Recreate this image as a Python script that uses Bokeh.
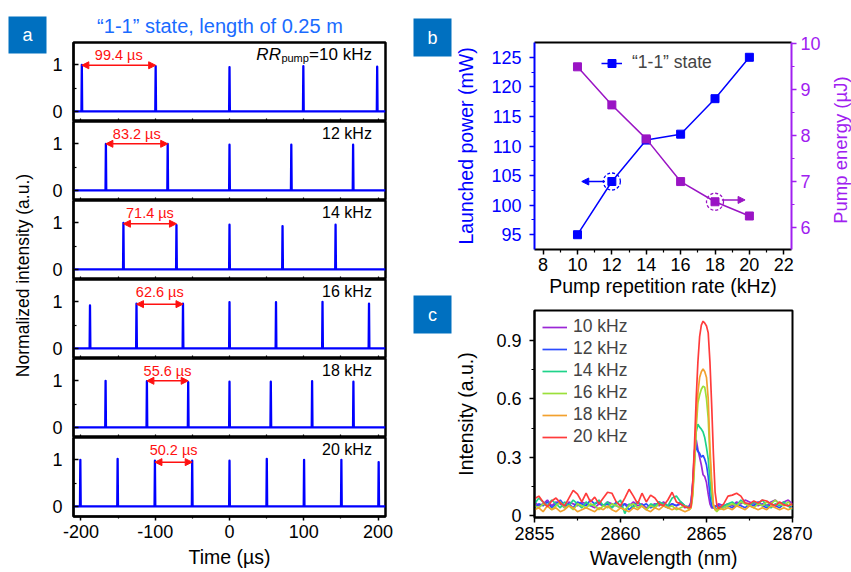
import math
import numpy as np
from bokeh.plotting import figure
from bokeh.models import Range1d, LinearAxis, FixedTicker, Arrow, NormalHead, Legend, LegendItem
from bokeh.layouts import row, column
from bokeh.embed import file_html
from bokeh.resources import INLINE
from bokeh.core.properties import value

FONT = "Liberation Sans"

# ---------------- panel a data ----------------
rate_labels_a = ["10 kHz", "12 kHz", "14 kHz", "16 kHz", "18 kHz", "20 kHz"]
period_labels = [99.4, 83.2, 71.4, 62.6, 55.6, 50.2]
pulse_t_10 = [-198.8, -99.4, 0.0, 99.4, 198.8]
pulse_h_10 = [1.0, 0.97, 0.95, 0.97, 0.96]
pulse_t_12 = [-166.4, -83.2, 0.0, 83.2, 166.4]
pulse_h_12 = [1.0, 1.0, 0.98, 0.98, 0.98]
pulse_t_14 = [-142.8, -71.4, 0.0, 71.4, 142.8]
pulse_h_14 = [1.0, 0.95, 0.96, 0.93, 0.96]
pulse_t_16 = [-187.8, -125.2, -62.6, 0.0, 62.6, 125.2, 187.8]
pulse_h_16 = [0.92, 0.96, 0.96, 0.99, 0.99, 1.0, 0.96]
pulse_t_18 = [-166.8, -111.2, -55.6, 0.0, 55.6, 111.2, 166.8]
pulse_h_18 = [1.0, 0.99, 0.97, 0.98, 0.98, 0.99, 0.98]
pulse_t_20 = [-200.8, -150.6, -100.4, -50.2, 0.0, 50.2, 100.4, 150.6, 200.8]
pulse_h_20 = [1.0, 1.02, 0.98, 0.98, 0.98, 1.02, 1.0, 1.0, 0.95]
baseline_level = 0.0
time_ticks = [-200, -100, 0, 100, 200]
time_tick_labels = ["-200", "-100", "0", "100", "200"]
time_minor = [-150, -50, 50, 150]
intensity_ticks = [0, 1]
intensity_minor = [0.5]

# ---------------- panel b data ----------------
rep_rate = [10, 12, 14, 16, 18, 20]
launched_power = [95, 104, 111, 112, 118, 125]
pump_energy = [9.5, 8.67, 7.93, 7.0, 6.56, 6.25]
rate_ticks = [8, 10, 12, 14, 16, 18, 20, 22]
rate_minor = [9, 11, 13, 15, 17, 19, 21]
power_ticks = [95, 100, 105, 110, 115, 120, 125]
power_minor = [97.5, 102.5, 107.5, 112.5, 117.5, 122.5]
energy_ticks = [6, 7, 8, 9, 10]
energy_minor = [6.5, 7.5, 8.5, 9.5]

# ---------------- panel c data ----------------
wl_left = np.linspace(2855.0, 2863.75, 36)
wl_peak = np.linspace(2864.0, 2865.7, 18)
wl_right = np.linspace(2866.0, 2870.0, 17)
wavelength = np.concatenate([wl_left, wl_peak, wl_right])

spec_10 = ([0.07, 0.05, 0.06, 0.08, 0.05, 0.07, 0.06, 0.04, 0.07, 0.06,
            0.05, 0.07, 0.06, 0.05, 0.04, 0.06, 0.05, 0.07, 0.06, 0.05,
            0.04, 0.06, 0.05, 0.07, 0.05, 0.06, 0.04, 0.05, 0.06, 0.05,
            0.07, 0.05, 0.06, 0.05, 0.06, 0.04]
           + [0.05, 0.07, 0.17, 0.33, 0.39, 0.34, 0.30, 0.26, 0.21, 0.20, 0.17, 0.11, 0.06, 0.04, 0.04, 0.05, 0.05, 0.06]
           + [0.05, 0.06, 0.05, 0.07, 0.06, 0.08, 0.07, 0.06, 0.05, 0.06, 0.05, 0.07, 0.08, 0.06, 0.07, 0.08, 0.06])
spec_12 = ([0.04, 0.06, 0.05, 0.07, 0.04, 0.06, 0.08, 0.05, 0.06, 0.04,
            0.07, 0.06, 0.05, 0.08, 0.06, 0.07, 0.05, 0.06, 0.04, 0.07,
            0.05, 0.06, 0.03, 0.05, 0.07, 0.05, 0.06, 0.04, 0.05, 0.07,
            0.05, 0.04, 0.06, 0.05, 0.07, 0.05]
           + [0.04, 0.06, 0.16, 0.30, 0.36, 0.33, 0.32, 0.30, 0.31, 0.29, 0.26, 0.20, 0.10, 0.05, 0.04, 0.04, 0.05, 0.05]
           + [0.04, 0.05, 0.04, 0.06, 0.05, 0.04, 0.06, 0.05, 0.07, 0.05, 0.04, 0.06, 0.05, 0.04, 0.06, 0.05, 0.04])
spec_14 = ([0.06, 0.09, 0.07, 0.05, 0.08, 0.06, 0.04, 0.07, 0.05, 0.08,
            0.06, 0.04, 0.07, 0.05, 0.06, 0.08, 0.05, 0.07, 0.04, 0.06,
            0.08, 0.01, 0.06, 0.04, 0.07, 0.05, 0.03, 0.06, 0.05, 0.07,
            0.06, 0.05, 0.09, 0.10, 0.07, 0.05]
           + [0.04, 0.05, 0.12, 0.28, 0.43, 0.47, 0.455, 0.445, 0.43, 0.40, 0.35, 0.29, 0.18, 0.09, 0.05, 0.04, 0.03, 0.04]
           + [0.05, 0.06, 0.07, 0.05, 0.08, 0.06, 0.05, 0.07, 0.06, 0.08, 0.05, 0.04, 0.06, 0.05, 0.07, 0.05, 0.03])
spec_16 = ([0.05, 0.04, 0.06, 0.05, 0.03, 0.05, 0.07, 0.04, 0.05, 0.03,
            0.06, 0.05, 0.04, 0.06, 0.05, 0.03, 0.05, 0.04, 0.06, 0.05,
            0.04, 0.03, 0.05, 0.06, 0.04, 0.05, 0.03, 0.05, 0.04, 0.06,
            0.05, 0.04, 0.05, 0.03, 0.04, 0.05]
           + [0.03, 0.04, 0.10, 0.25, 0.45, 0.58, 0.62, 0.65, 0.665, 0.66, 0.60, 0.50, 0.30, 0.15, 0.05, 0.03, 0.02, 0.03]
           + [0.04, 0.05, 0.06, 0.05, 0.07, 0.06, 0.05, 0.04, 0.06, 0.05, 0.07, 0.06, 0.08, 0.06, 0.05, 0.07, 0.05])
spec_18 = ([0.03, 0.04, 0.02, 0.05, 0.03, 0.04, 0.02, 0.03, 0.05, 0.04,
            0.02, 0.03, 0.04, 0.03, 0.02, 0.04, 0.03, 0.05, 0.03, 0.02,
            0.04, 0.03, 0.02, 0.04, 0.03, 0.05, 0.03, 0.02, 0.04, 0.03,
            0.05, 0.04, 0.03, 0.04, 0.03, 0.02]
           + [0.03, 0.04, 0.12, 0.30, 0.49, 0.63, 0.71, 0.74, 0.755, 0.74, 0.71, 0.60, 0.35, 0.18, 0.06, 0.03, 0.03, 0.04]
           + [0.03, 0.04, 0.03, 0.05, 0.04, 0.03, 0.05, 0.04, 0.03, 0.04, 0.03, 0.05, 0.04, 0.03, 0.04, 0.03, 0.04])
spec_20 = ([0.086, 0.10, 0.07, 0.045, 0.075, 0.09, 0.065, 0.05, 0.09, 0.13,
            0.11, 0.07, 0.115, 0.07, 0.095, 0.06, 0.09, 0.12, 0.115, 0.07,
            0.05, 0.09, 0.135, 0.10, 0.06, 0.115, 0.07, 0.105, 0.09, 0.06,
            0.05, 0.08, 0.12, 0.07, 0.06, 0.045]
           + [0.04, 0.045, 0.17, 0.36, 0.60, 0.79, 0.92, 0.98, 1.0, 0.99, 0.975, 0.94, 0.79, 0.57, 0.32, 0.12, 0.055, 0.035]
           + [0.06, 0.10, 0.105, 0.115, 0.10, 0.065, 0.06, 0.075, 0.065, 0.08, 0.075, 0.06, 0.05, 0.07, 0.055, 0.05, 0.06])
spec_labels = ["10 kHz", "12 kHz", "14 kHz", "16 kHz", "18 kHz", "20 kHz"]
wl_ticks = [2855, 2860, 2865, 2870]
wl_minor = [2857.5, 2862.5, 2867.5]
int_ticks = [0.0, 0.3, 0.6, 0.9]
int_minor = [0.15, 0.45, 0.75]

# ---------------- styles ----------------
BOX = "#0070C0"
TITLE_BLUE = "#1A6BFF"
TRACE_BLUE = "#0000FF"
RED = "#FF1010"
PB_BLUE = "#0000FF"
PB_PURPLE = "#9A14C4"
PB_PURPLE_AX = "#A020F0"
SPEC_COLORS = ["#9B27D6", "#2B4BFF", "#1FD38A", "#9BE03A", "#F2A12E", "#FF3B3B"]
TICK_FS = "18px"
LABEL_FS = "19.5px"


def canvas(w, h):
    f = figure(width=w, height=h, x_range=Range1d(0, w), y_range=Range1d(0, h),
               x_axis_location=None, y_axis_location=None, toolbar_location=None,
               output_backend="svg", min_border=0)
    f.grid.visible = False
    f.outline_line_color = None
    return f


def style_axis(ax, color="black", size=TICK_FS):
    ax.major_label_text_font = FONT
    ax.major_label_text_font_size = size
    ax.major_label_text_color = color
    ax.axis_label_text_font = FONT
    ax.axis_label_text_font_size = LABEL_FS
    ax.axis_label_text_font_style = "normal"
    ax.axis_label_text_color = color
    ax.axis_line_color = color
    ax.axis_line_width = 2
    ax.major_tick_line_color = color
    ax.minor_tick_line_color = color
    ax.major_tick_line_width = 1.5
    ax.minor_tick_line_width = 1.2


def box_letter(f, H, l, r, t, b, letter):
    f.quad(left=[l], right=[r], top=[H - t], bottom=[H - b], fill_color=BOX, line_color=None)
    f.text(x=[(l + r) / 2], y=[H - (t + b) / 2], text=[letter], text_color="white",
           text_font=value(FONT), text_font_size="18px", text_align="center", text_baseline="middle")


# ---------------- panel a ----------------
H = 572
strip_a = canvas(47, H)
box_letter(strip_a, H, 8, 46, 16, 53, "a")
strip_a.text(x=[22], y=[H - 275], text=["Normalized intensity (a.u.)"], angle=math.pi / 2,
             text_font=value(FONT), text_font_size="17.5px", text_color="black",
             text_align="center", text_baseline="middle")

header = canvas(353, 40)
header.text(x=[165.7], y=[40 - 25], text=["\u201c1-1\u201d state, length of 0.25 m"],
            text_font=value(FONT), text_font_size="20px", text_color=TITLE_BLUE,
            text_align="center", text_baseline="middle")

pulse_times = [pulse_t_10, pulse_t_12, pulse_t_14, pulse_t_16, pulse_t_18, pulse_t_20]
pulse_heights = [pulse_h_10, pulse_h_12, pulse_h_14, pulse_h_16, pulse_h_18, pulse_h_20]
arrow_pair_start = [0, 0, 0, 1, 1, 2]
arrow_level = [0.99, 1.0, 0.98, 0.95, 1.0, 0.95]
LABEL_LEVEL = 1.21
KHZ_LEVEL = 1.23
KHZ_X = 191.7
T_LO, T_HI = -210, 210
Y_LO, Y_HI = -0.22, 1.48
HALF_W = 0.5

subs = []
for k in range(6):
    first, last = (k == 0), (k == 5)
    tb = 2 if first else 0
    bb = 56 if last else 0
    p = figure(width=353, height=79 + tb + bb, x_range=Range1d(T_LO, T_HI), y_range=Range1d(Y_LO, Y_HI),
               output_backend="svg", toolbar_location=None,
               min_border_left=26, min_border_right=15, min_border_top=tb, min_border_bottom=bb)
    p.grid.visible = False
    p.outline_line_color = "black"
    p.outline_line_width = 2.5
    # y axis
    ya = p.yaxis[0]
    style_axis(ya)
    ya.ticker = FixedTicker(ticks=intensity_ticks, minor_ticks=intensity_minor)
    ya.major_tick_in = 5
    ya.major_tick_out = 0
    ya.minor_tick_in = 3
    ya.minor_tick_out = 0
    ya.major_label_standoff = 11
    # x axis
    xa = p.xaxis[0]
    style_axis(xa)
    if last:
        xa.ticker = FixedTicker(ticks=time_ticks, minor_ticks=time_minor)
        xa.major_label_overrides = {t: s for t, s in zip(time_ticks, time_tick_labels)}
        xa.major_tick_in = 0
        xa.major_tick_out = 4
        xa.minor_tick_in = 0
        xa.minor_tick_out = 2
        xa.major_label_standoff = 4
        xa.axis_label = "Time (\u00b5s)"
        xa.axis_label_standoff = 5
    else:
        # unlabeled inner axis: tick marks only
        xa.ticker = FixedTicker(ticks=[], minor_ticks=sorted(time_ticks + time_minor))
        xa.minor_tick_in = 3
        xa.minor_tick_out = 0
        xa.major_tick_out = 0
        xa.major_label_standoff = 0
    # trace
    xs, ys = [T_LO], [baseline_level]
    for t, hgt in zip(pulse_times[k], pulse_heights[k]):
        xs += [t - HALF_W, t, t + HALF_W]
        ys += [baseline_level, hgt, baseline_level]
    xs.append(T_HI)
    ys.append(baseline_level)
    p.line(xs, ys, line_color=TRACE_BLUE, line_width=2.3, line_join="round")
    # period arrow + label
    i0 = arrow_pair_start[k]
    t0, t1 = pulse_times[k][i0], pulse_times[k][i0 + 1]
    lvl = arrow_level[k]
    p.add_layout(Arrow(start=NormalHead(size=7, fill_color=RED, line_color=RED),
                       end=NormalHead(size=7, fill_color=RED, line_color=RED),
                       x_start=t0, y_start=lvl, x_end=t1, y_end=lvl,
                       line_color=RED, line_width=1.5))
    p.text(x=[(t0 + t1) / 2], y=[LABEL_LEVEL], text=[f"{period_labels[k]} \u00b5s"],
           text_color=RED, text_font=value(FONT), text_font_size="14.5px",
           text_align="center", text_baseline="middle")
    # rate label
    if first:
        p.text(x=[KHZ_X], y=[KHZ_LEVEL], text=["=" + rate_labels_a[k]], text_font=value(FONT),
               text_font_size="17px", text_align="right", text_baseline="middle", text_color="black")
        p.text(x=[KHZ_X], y=[KHZ_LEVEL], text=["pump"], text_font=value(FONT), x_offset=-63, y_offset=4,
               text_font_size="11px", text_align="right", text_baseline="middle", text_color="black")
        p.text(x=[KHZ_X], y=[KHZ_LEVEL], text=["RR"], text_font=value(FONT), x_offset=-91,
               text_font_style="italic", text_font_size="17px", text_align="right",
               text_baseline="middle", text_color="black")
    else:
        p.text(x=[KHZ_X], y=[KHZ_LEVEL], text=[rate_labels_a[k]], text_font=value(FONT),
               text_font_size="16px", text_align="right", text_baseline="middle", text_color="black")
    subs.append(p)

left_block = row(strip_a, column(header, *subs))

# ---------------- panel b ----------------
strip_bc = canvas(52, H)
box_letter(strip_bc, H, 13, 51, 18, 56, "b")
box_letter(strip_bc, H, 13, 51, 295, 333, "c")

pb = figure(width=374, height=300, x_range=Range1d(7.5, 22.45), y_range=Range1d(92.5, 127.5),
            output_backend="svg", toolbar_location=None,
            min_border_left=81, min_border_right=35, min_border_top=42, min_border_bottom=51)
pb.extra_y_ranges = {"energy": Range1d(5.52, 10.03)}
pb.grid.visible = False
pb.outline_line_color = None

bx = pb.xaxis[0]
style_axis(bx)
bx.ticker = FixedTicker(ticks=rate_ticks, minor_ticks=rate_minor)
bx.major_tick_in = 0
bx.major_tick_out = 5
bx.minor_tick_in = 0
bx.minor_tick_out = 3
bx.major_label_standoff = 3
bx.axis_label = "Pump repetition rate (kHz)"
bx.axis_label_standoff = 1

by = pb.yaxis[0]
style_axis(by, PB_BLUE)
by.ticker = FixedTicker(ticks=power_ticks, minor_ticks=power_minor)
by.major_tick_in = 0
by.major_tick_out = 5
by.minor_tick_in = 0
by.minor_tick_out = 3
by.major_label_standoff = 8
by.axis_label = "Launched power (mW)"
by.axis_label_standoff = 11

br = LinearAxis(y_range_name="energy", ticker=FixedTicker(ticks=energy_ticks, minor_ticks=energy_minor))
style_axis(br, PB_PURPLE_AX)
br.major_tick_in = 0
br.major_tick_out = 5
br.minor_tick_in = 0
br.minor_tick_out = 3
br.major_label_standoff = 4
pb.add_layout(br, "right")

btop = LinearAxis(ticker=FixedTicker(ticks=[], minor_ticks=[]),
                  major_tick_line_color=None, minor_tick_line_color=None,
                  major_label_standoff=0, major_tick_out=0, minor_tick_out=0, major_tick_in=0, minor_tick_in=0,
                  axis_line_color="black", axis_line_width=2)
pb.add_layout(btop, "above")

r1 = pb.line(rep_rate, launched_power, line_color=PB_BLUE, line_width=1.5)
r2 = pb.scatter(rep_rate, launched_power, marker="square", size=8, color=PB_BLUE)
pb.line(rep_rate, pump_energy, line_color=PB_PURPLE, line_width=1.5, y_range_name="energy")
pb.scatter(rep_rate, pump_energy, marker="square", size=8, color=PB_PURPLE, y_range_name="energy")

hp, he = 1, 4  # highlighted points: power at 12 kHz, energy at 18 kHz
pb.scatter([rep_rate[hp]], [launched_power[hp]], marker="circle", size=17, fill_color=None,
           line_color=PB_BLUE, line_dash="3 2", line_width=1.3)
pb.scatter([rep_rate[he]], [pump_energy[he]], marker="circle", size=17, fill_color=None,
           line_color=PB_PURPLE, line_dash="3 2", line_width=1.3, y_range_name="energy")
pb.add_layout(Arrow(end=NormalHead(size=7, fill_color=PB_BLUE, line_color=PB_BLUE),
                    x_start=rep_rate[hp] - 0.4, x_end=rep_rate[hp] - 1.75,
                    y_start=launched_power[hp], y_end=launched_power[hp],
                    line_color=PB_BLUE, line_width=1.5))
pb.add_layout(Arrow(end=NormalHead(size=7, fill_color=PB_PURPLE, line_color=PB_PURPLE),
                    x_start=rep_rate[he] + 0.4, x_end=rep_rate[he] + 1.75,
                    y_start=pump_energy[he] + 0.04, y_end=pump_energy[he] + 0.04,
                    line_color=PB_PURPLE, line_width=1.5, y_range_name="energy"))

leg_b = Legend(items=[LegendItem(label="\u201c1-1\u201d state", renderers=[r1, r2])],
               location=(67, 176), padding=0, margin=0, glyph_width=21, glyph_height=20,
               label_height=20, label_standoff=10, label_text_font=FONT, label_text_font_size="17.5px",
               border_line_color=None, background_fill_alpha=0)
pb.add_layout(leg_b)

strip_b_right = canvas(25, 300)
strip_b_right.text(x=[14], y=[300 - 156], text=["Pump energy (\u00b5J)"], angle=math.pi / 2,
                   text_font=value(FONT), text_font_size="18.5px", text_color=PB_PURPLE_AX,
                   text_align="center", text_baseline="middle")

# ---------------- panel c ----------------
pc = figure(width=399, height=272, x_range=Range1d(2855, 2870), y_range=Range1d(-0.01, 1.055),
            output_backend="svg", toolbar_location=None,
            min_border_left=81, min_border_right=59, min_border_top=10, min_border_bottom=55)
pc.grid.visible = False
pc.outline_line_color = "black"
pc.outline_line_width = 2

cx = pc.xaxis[0]
style_axis(cx)
cx.ticker = FixedTicker(ticks=wl_ticks, minor_ticks=wl_minor)
cx.major_tick_in = 0
cx.major_tick_out = 5
cx.minor_tick_in = 0
cx.minor_tick_out = 3
cx.major_label_standoff = 4
cx.axis_label = "Wavelength (nm)"
cx.axis_label_standoff = 4

cy = pc.yaxis[0]
style_axis(cy)
cy.ticker = FixedTicker(ticks=int_ticks, minor_ticks=int_minor)
cy.major_tick_in = 0
cy.major_tick_out = 5
cy.minor_tick_in = 0
cy.minor_tick_out = 3
cy.major_label_standoff = 8
cy.axis_label = "Intensity (a.u.)"
cy.axis_label_standoff = 16

spectra = [spec_10, spec_12, spec_14, spec_16, spec_18, spec_20]
items = []
for lbl, col, vals in zip(spec_labels, SPEC_COLORS, spectra):
    r = pc.line(wavelength, vals, line_color=col, line_width=1.7)
    items.append(LegendItem(label=lbl, renderers=[r]))
leg_c = Legend(items=items, location=(8, 70), padding=0, margin=0, spacing=1,
               glyph_width=25, glyph_height=20, label_height=20, label_standoff=6,
               label_text_font=FONT, label_text_font_size="17.5px",
               border_line_color=None, background_fill_alpha=0)
pc.add_layout(leg_c)

right_block = row(strip_bc, column(row(pb, strip_b_right), pc))
layout = row(left_block, right_block)

open("out.html", "w").write(file_html(layout, INLINE))
